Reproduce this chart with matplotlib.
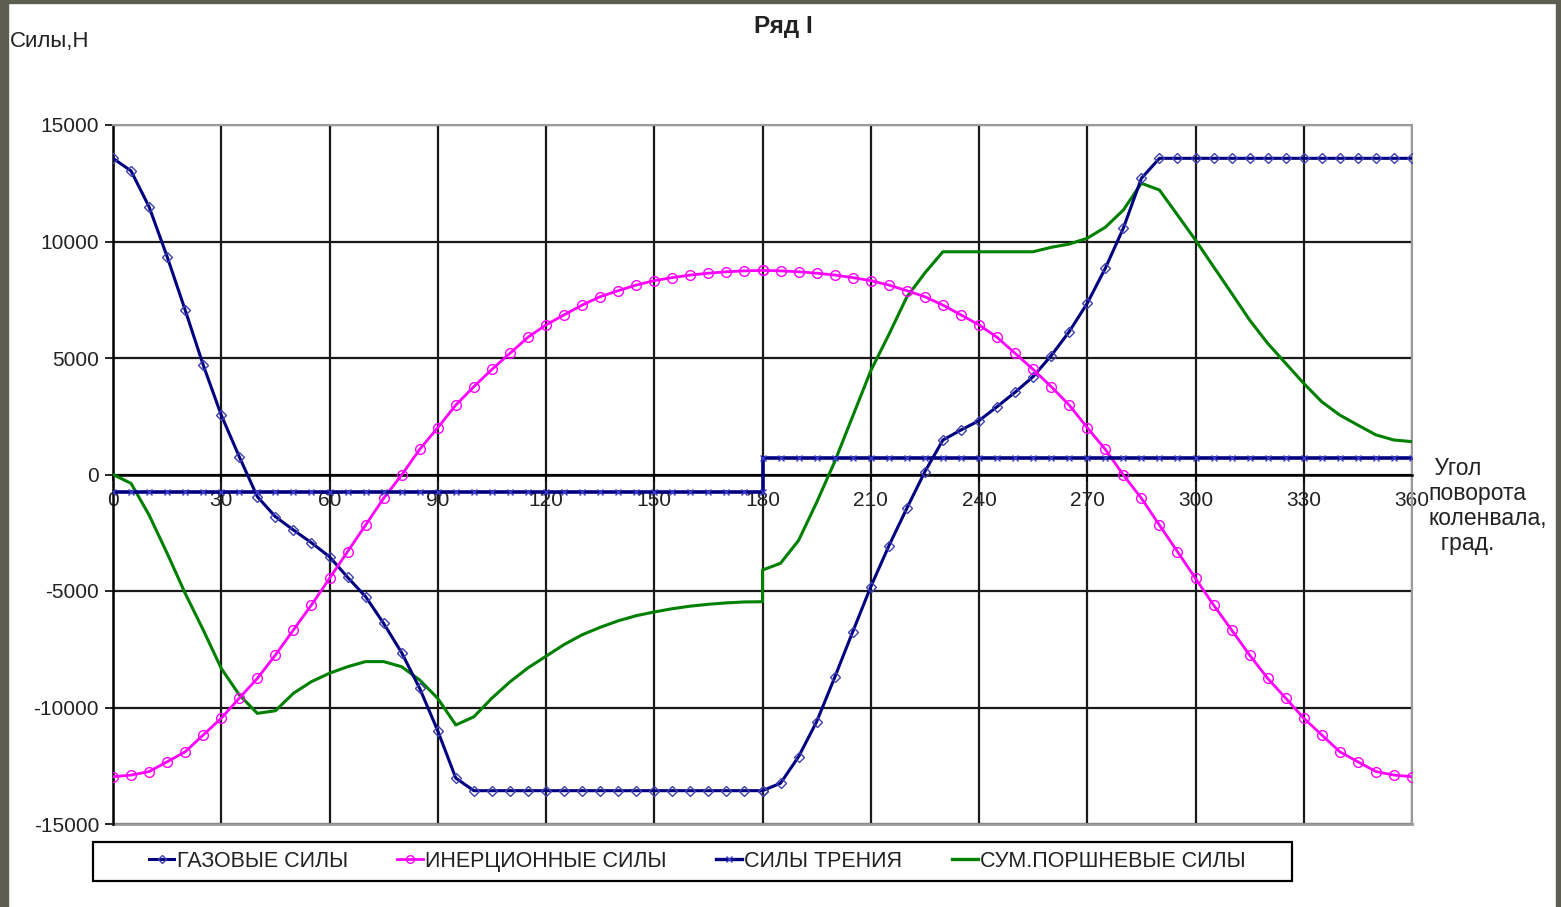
import matplotlib
matplotlib.use("Agg")
import matplotlib.pyplot as plt
from matplotlib.patches import Rectangle
from matplotlib.lines import Line2D

# ---------------- data ----------------
angles = list(range(0, 185, 5)) + list(range(180, 365, 5))

gas = [13570, 13030, 11490, 9350, 7060, 4700, 2550, 760, -950, -1810,
       -2380, -2930, -3530, -4410, -5240, -6390, -7650, -9180, -11000, -13030,
       -13570, -13570, -13570, -13570, -13570, -13570, -13570, -13570, -13570,
       -13570, -13570, -13570, -13570, -13570, -13570, -13570, -13570,
       -13570, -13250, -12110, -10610, -8710, -6750, -4820, -3070, -1450, 120,
       1480, 1910, 2310, 2910, 3530, 4200, 5100, 6130, 7350, 8850, 10570, 12710,
       13570, 13570, 13570, 13570, 13570, 13570, 13570, 13570, 13570, 13570,
       13570, 13570, 13570, 13570, 13570]

inertia = [-12970, -12900, -12750, -12330, -11900, -11180, -10460, -9600, -8750, -7750,
           -6670, -5600, -4460, -3310, -2170, -1020, -20, 1080, 2010, 2980,
           3770, 4510, 5200, 5890, 6420, 6850, 7270, 7630, 7890, 8130,
           8320, 8450, 8560, 8640, 8700, 8740, 8760,
           8760, 8740, 8700, 8640, 8560, 8450, 8320, 8130, 7890, 7630,
           7270, 6850, 6420, 5890, 5200, 4510, 3770, 2980, 2010, 1080,
           -20, -1020, -2170, -3310, -4460, -5600, -6670, -7750, -8750, -9600,
           -10460, -11180, -11900, -12330, -12750, -12900, -12970]

friction = [-730] * 37 + [690] * 37

total = [0, -380, -1740, -3380, -5100, -6670, -8320, -9460, -10250, -10140,
         -9390, -8890, -8530, -8250, -8030, -8030, -8250, -8820, -9610, -10750,
         -10400, -9600, -8900, -8300, -7800, -7300, -6880, -6560, -6280, -6060,
         -5900, -5760, -5650, -5570, -5510, -5470, -5460,
         -4100, -3810, -2830, -1200, 550, 2500, 4450, 6000, 7620, 8650,
         9560, 9560, 9560, 9560, 9560, 9560, 9750, 9890, 10140, 10610,
         11350, 12500, 12210, 11140, 10060, 8920, 7780, 6630, 5630, 4770,
         3910, 3120, 2550, 2120, 1700, 1480, 1410]

series_names = ["ГАЗОВЫЕ СИЛЫ", "ИНЕРЦИОННЫЕ СИЛЫ", "СИЛЫ ТРЕНИЯ", "СУМ.ПОРШНЕВЫЕ СИЛЫ"]
x_ticks = list(range(0, 361, 30))
y_ticks = list(range(-15000, 15001, 5000))

title = "Ряд I"
y_title = "Силы,Н"
x_title = " Угол\nповорота\nколенвала,\n  град."

# ---------------- figure ----------------
plt.rcParams['font.family'] = ['Liberation Sans', 'DejaVu Sans']
plt.rcParams['axes.unicode_minus'] = False
W, H = 1561, 907
fig = plt.figure(figsize=(W / 100, H / 100), dpi=100)
fig.patch.set_facecolor('white')

ax = fig.add_axes([113 / W, 1 - 824 / H, (1412 - 113) / W, (824 - 125) / H])
ax.set_xlim(0, 360)
ax.set_ylim(-15000, 15000)

navy = '#000080'
mag = '#FF00FF'
grn = '#008000'
mk_blue = '#3a3ac8'

ax.plot(angles, gas, color=navy, lw=2.2, marker='D', ms=5, mfc='none',
        mec='#4040b0', mew=1.0, zorder=4, label=series_names[0])
ax.plot(angles, inertia, color=mag, lw=2.0, marker='o', ms=7, mfc='none',
        mec=mag, mew=1.0, zorder=4, label=series_names[1])
ax.plot(angles, friction, color=navy, lw=2.6, marker='x', ms=5, mec=mk_blue,
        mew=1.0, zorder=4, label=series_names[2])
ax.plot(angles, total, color=grn, lw=2.2, zorder=3, label=series_names[3])

# grid
ax.set_xticks(x_ticks)
ax.set_yticks(y_ticks)
ax.grid(True, color='#1a1a1a', lw=1.6, zorder=1)
ax.set_axisbelow(True)

# spines
ax.spines['bottom'].set_position(('data', 0))
ax.spines['bottom'].set_color('black')
ax.spines['bottom'].set_linewidth(1.8)
ax.spines['left'].set_color('black')
ax.spines['left'].set_linewidth(1.8)
for s in ('top', 'right'):
    ax.spines[s].set_color('#9a9a9a')
    ax.spines[s].set_linewidth(1.5)
ax.axhline(-15000, color='#9a9a9a', lw=2.0, zorder=1.5, clip_on=False)

ax.tick_params(axis='x', direction='out', length=4, width=1.2, pad=8,
               labelsize=15, colors='black')
ax.tick_params(axis='y', direction='out', length=6, width=1.2, pad=4,
               labelsize=15, colors='black')
for lab in ax.get_xticklabels():
    lab.set_color('#222222')
for lab in ax.get_yticklabels():
    lab.set_color('#222222')

# texts
fig.text(783 / W, 1 - 27 / H, title, ha='center', va='center',
         fontsize=17.5, fontweight='bold', color='#222222')
fig.text(10 / W, 1 - 42 / H, y_title, ha='left', va='center',
         fontsize=16, color='#222222')
fig.text(1428 / W, 1 - 457 / H, x_title, ha='left', va='top',
         fontsize=16.5, color='#222222', linespacing=1.12)

# legend
handles = [
    Line2D([], [], color=navy, lw=2.2, marker='D', ms=4, mfc='none', mec='#4040b0'),
    Line2D([], [], color=mag, lw=2.0, marker='o', ms=5.5, mfc='none', mec=mag),
    Line2D([], [], color=navy, lw=2.4, marker='x', ms=5, mec=mk_blue),
    Line2D([], [], color=grn, lw=2.4),
]
leg = fig.legend(handles, series_names, loc='center',
                 bbox_to_anchor=(697 / W, 1 - 861.5 / H),
                 ncol=4, frameon=False, fontsize=15.5,
                 handlelength=1.2, handletextpad=0.1, columnspacing=2.3,
                 borderpad=0.3, markerscale=1.0)
for t in leg.get_texts():
    t.set_color('#222222')
fig.patches.append(Rectangle((93 / W, 1 - 881 / H), (1292 - 93) / W, 39 / H,
                             transform=fig.transFigure, fill=False,
                             edgecolor='black', lw=1.6, zorder=5))

# dark frame around the slide
frame_col = '#5d5e4f'
fig.patches.append(Rectangle((0, 0), 8 / W, 1, transform=fig.transFigure,
                             color=frame_col, zorder=10))
fig.patches.append(Rectangle((0, 1 - 3 / H), 1, 3 / H, transform=fig.transFigure,
                             color=frame_col, zorder=10))
fig.patches.append(Rectangle((1 - 5 / W, 0), 5 / W, 1, transform=fig.transFigure,
                             color=frame_col, zorder=10))

fig.savefig('out.png', dpi=100, facecolor='white')
